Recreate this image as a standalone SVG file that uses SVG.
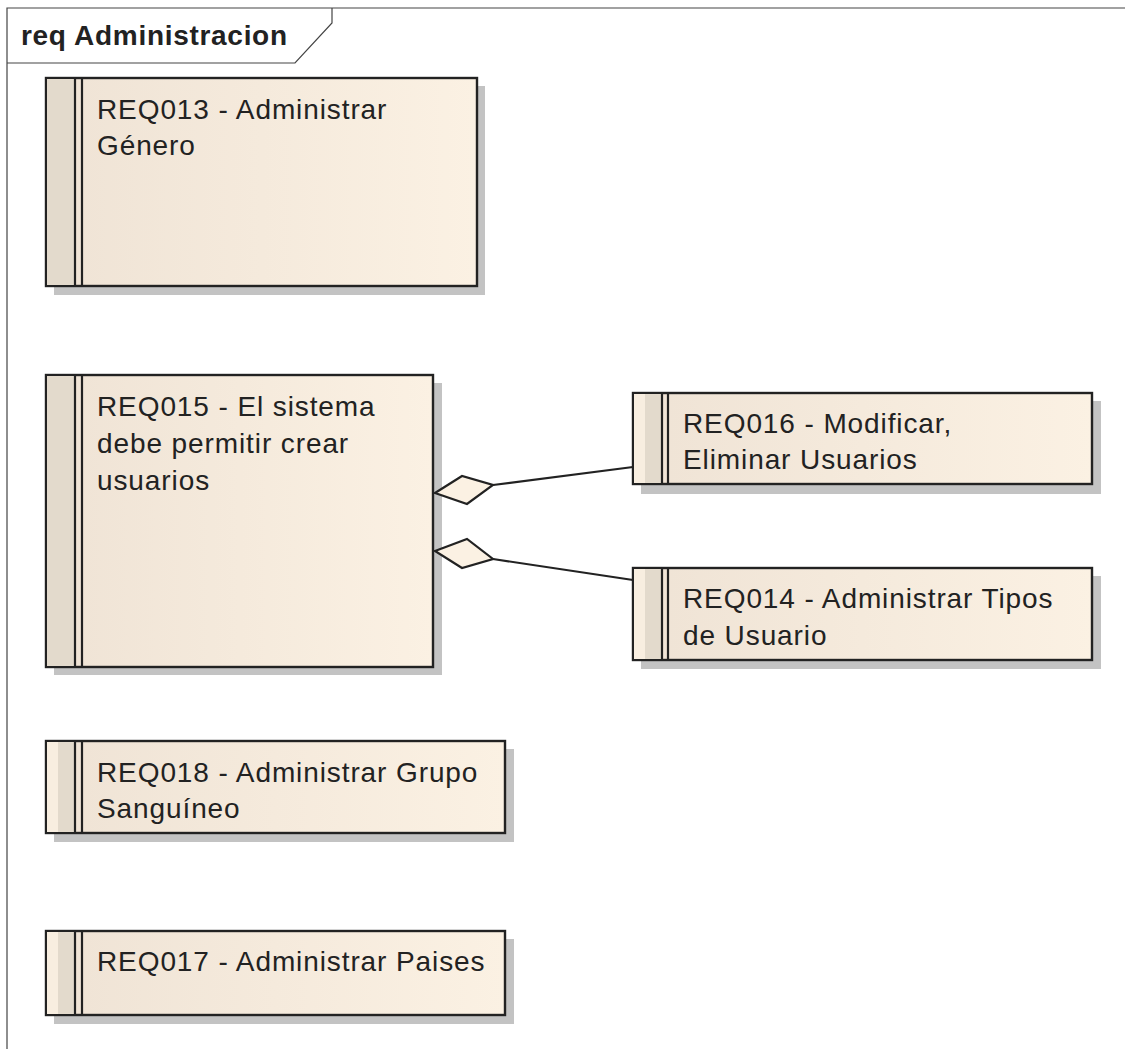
<svg xmlns="http://www.w3.org/2000/svg" width="1125" height="1049" viewBox="0 0 1125 1049">
<defs>
<linearGradient id="fill" x1="0" y1="0" x2="1" y2="0">
<stop offset="0" stop-color="#efe3d5"/>
<stop offset="1" stop-color="#fbf1e3"/>
</linearGradient>
<style>
.shadow{fill:#c3c3c3}
.box{fill:url(#fill);stroke:#222;stroke-width:2.4}
.stripe{fill:#e3dacc}
.light{fill:#f8eee0}
.sl{stroke:#222;stroke-width:2.2}
.t{font-family:"Liberation Sans",Arial,sans-serif;font-size:28px;letter-spacing:0.9px;fill:#222}
.title{font-family:"Liberation Sans",Arial,sans-serif;font-size:28px;font-weight:bold;letter-spacing:0.7px;fill:#222}
.frame{fill:none;stroke:#444;stroke-width:1.2}
.conn{stroke:#222;stroke-width:2.2;fill:none}
.dia{fill:#fbf1e3;stroke:#222;stroke-width:2.2;stroke-linejoin:miter}
</style>
</defs>
<rect width="1125" height="1049" fill="#ffffff"/>
<g id="frame">
<path class="frame" d="M7,1049 V8 H1125"/>
<path class="frame" d="M7,63 H295 L332,23 V8"/>
<text class="title" x="21" y="45">req Administracion</text>
</g>
<g id="REQ013">
<rect class="shadow" x="54" y="86" width="431" height="209"/>
<rect class="box" x="46" y="78" width="431" height="208"/>
<rect class="stripe" x="47" y="79" width="28" height="206"/>
<line class="sl" x1="75" y1="78" x2="75" y2="286"/>
<line class="sl" x1="82" y1="78" x2="82" y2="286"/>
<text class="t" x="97" y="119">REQ013 - Administrar</text>
<text class="t" x="97" y="155">Género</text>
</g>
<g id="REQ015">
<rect class="shadow" x="54" y="383" width="388" height="292"/>
<rect class="box" x="46" y="375" width="387" height="292"/>
<rect class="stripe" x="47" y="376" width="28" height="290"/>
<line class="sl" x1="75" y1="375" x2="75" y2="667"/>
<line class="sl" x1="82" y1="375" x2="82" y2="667"/>
<text class="t" x="97" y="416">REQ015 - El sistema</text>
<text class="t" x="97" y="453">debe permitir crear</text>
<text class="t" x="97" y="490">usuarios</text>
</g>
<g id="REQ016">
<rect class="shadow" x="641" y="401" width="460" height="93"/>
<rect class="box" x="633" y="393" width="459" height="91"/>
<rect class="light" x="634" y="394" width="11" height="89"/>
<rect class="stripe" x="645" y="394" width="17" height="89"/>
<line class="sl" x1="662" y1="393" x2="662" y2="484"/>
<line class="sl" x1="668" y1="393" x2="668" y2="484"/>
<text class="t" x="683" y="433">REQ016 - Modificar,</text>
<text class="t" x="683" y="469">Eliminar Usuarios</text>
</g>
<g id="REQ014">
<rect class="shadow" x="641" y="576" width="460" height="93"/>
<rect class="box" x="633" y="568" width="459" height="92"/>
<rect class="light" x="634" y="569" width="11" height="90"/>
<rect class="stripe" x="645" y="569" width="17" height="90"/>
<line class="sl" x1="662" y1="568" x2="662" y2="660"/>
<line class="sl" x1="668" y1="568" x2="668" y2="660"/>
<text class="t" x="683" y="608">REQ014 - Administrar Tipos</text>
<text class="t" x="683" y="645">de Usuario</text>
</g>
<g id="REQ018">
<rect class="shadow" x="54" y="749" width="460" height="93"/>
<rect class="box" x="46" y="741" width="459" height="92"/>
<rect class="light" x="47" y="742" width="11" height="90"/>
<rect class="stripe" x="58" y="742" width="17" height="90"/>
<line class="sl" x1="75" y1="741" x2="75" y2="833"/>
<line class="sl" x1="82" y1="741" x2="82" y2="833"/>
<text class="t" x="97" y="782">REQ018 - Administrar Grupo</text>
<text class="t" x="97" y="818">Sanguíneo</text>
</g>
<g id="REQ017">
<rect class="shadow" x="54" y="939" width="460" height="85"/>
<rect class="box" x="46" y="931" width="459" height="84"/>
<rect class="light" x="47" y="932" width="11" height="82"/>
<rect class="stripe" x="58" y="932" width="17" height="82"/>
<line class="sl" x1="75" y1="931" x2="75" y2="1015"/>
<line class="sl" x1="82" y1="931" x2="82" y2="1015"/>
<text class="t" x="97" y="971">REQ017 - Administrar Paises</text>
</g>
<g id="connectors">
<line class="conn" x1="493" y1="485" x2="633" y2="467"/>
<polygon class="dia" points="435,493 462,476 493,485 467,504"/>
<line class="conn" x1="493" y1="559" x2="633" y2="580"/>
<polygon class="dia" points="435,551 467,539 493,559 462,568"/>
</g>
</svg>
